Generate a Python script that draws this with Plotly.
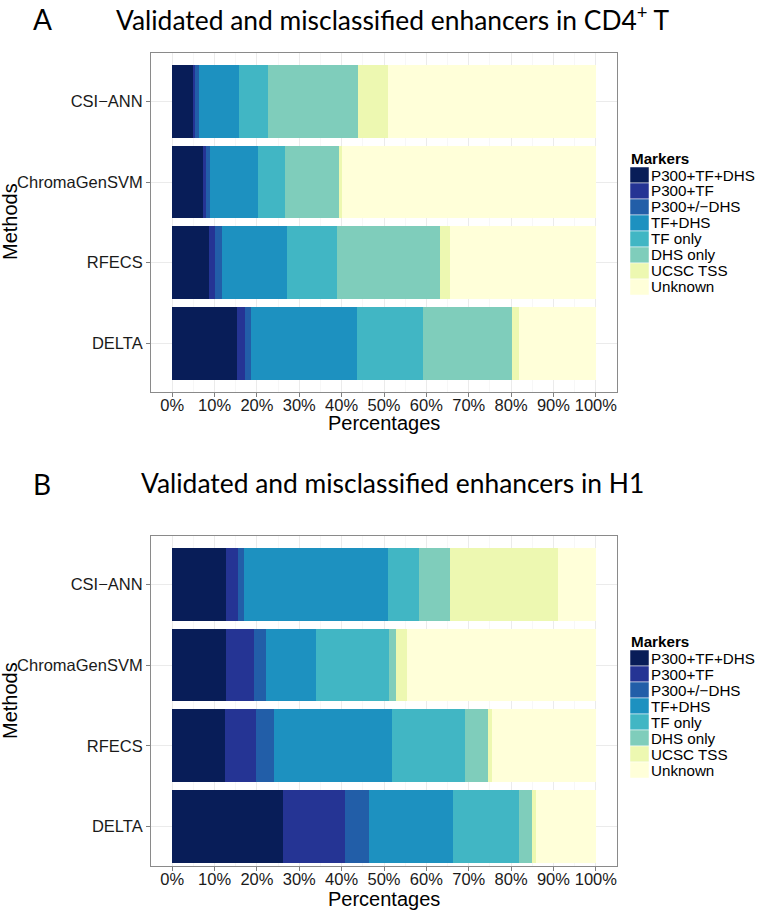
import plotly.graph_objects as go

# ---------------- data ----------------
methods = ["CSI−ANN", "ChromaGenSVM", "RFECS", "DELTA"]
markers = ["P300+TF+DHS", "P300+TF", "P300+/−DHS", "TF+DHS", "TF only", "DHS only", "UCSC TSS", "Unknown"]
colors = ["#081d58", "#253494", "#225ea8", "#1d91c0", "#41b6c4", "#7fcdbb", "#edf8b1", "#ffffd9"]
x_ticks = [0, 10, 20, 30, 40, 50, 60, 70, 80, 90, 100]
x_ticktext = ["0%", "10%", "20%", "30%", "40%", "50%", "60%", "70%", "80%", "90%", "100%"]

# Panel A: CD4+ T (values per method, in order of `methods`)
p300_tf_dhs_A = [5.0, 7.2, 8.7, 15.3]
p300_tf_A = [0.5, 0.7, 1.5, 1.8]
p300_dhs_A = [0.9, 1.0, 1.5, 1.5]
tf_dhs_A = [9.3, 11.3, 15.4, 25.1]
tf_only_A = [6.9, 6.4, 11.8, 15.5]
dhs_only_A = [21.3, 12.7, 24.2, 20.9]
ucsc_tss_A = [7.0, 0.8, 2.4, 1.7]
unknown_A = [49.1, 59.9, 34.5, 18.2]

# Panel B: H1
p300_tf_dhs_B = [12.7, 12.7, 12.5, 26.1]
p300_tf_B = [2.8, 6.6, 7.2, 14.6]
p300_dhs_B = [1.4, 2.9, 4.3, 5.7]
tf_dhs_B = [34.1, 11.7, 28.0, 20.0]
tf_only_B = [7.2, 17.2, 17.2, 15.4]
dhs_only_B = [7.3, 1.7, 5.3, 3.1]
ucsc_tss_B = [25.5, 2.7, 1.0, 0.9]
unknown_B = [9.0, 44.5, 24.5, 14.2]

series_A = [p300_tf_dhs_A, p300_tf_A, p300_dhs_A, tf_dhs_A, tf_only_A, dhs_only_A, ucsc_tss_A, unknown_A]
series_B = [p300_tf_dhs_B, p300_tf_B, p300_dhs_B, tf_dhs_B, tf_only_B, dhs_only_B, ucsc_tss_B, unknown_B]

title_A = "Validated and misclassified enhancers in CD4<sup>+</sup> T"
title_B = "Validated and misclassified enhancers in H1"

# ---------------- figure ----------------
W, H = 762, 917
def px(x):
    return x / W
def py(y):
    return 1 - y / H

fig = go.Figure()
for name, col, vals in zip(markers, colors, series_A):
    fig.add_trace(go.Bar(y=methods, x=vals, name=name, orientation="h", marker=dict(color=col, line=dict(width=0)),
                         width=0.9, xaxis="x", yaxis="y", showlegend=False))
for name, col, vals in zip(markers, colors, series_B):
    fig.add_trace(go.Bar(y=methods, x=vals, name=name, orientation="h", marker=dict(color=col, line=dict(width=0)),
                         width=0.9, xaxis="x2", yaxis="y2", showlegend=False))

SANS = "Liberation Sans"
tickfont = dict(family=SANS, size=16.5, color="#1a1a1a")
xcommon = dict(range=[-5, 105], tickmode="array", tickvals=x_ticks, ticktext=x_ticktext,
               showgrid=True, gridcolor="#ebebeb", gridwidth=1,
               minor=dict(dtick=5, tick0=0, showgrid=True, gridcolor="#f7f7f7", gridwidth=1, ticks=""),
               zeroline=False, showline=True, linecolor="#8a8a8a", linewidth=1, mirror=True,
               ticks="outside", ticklen=4, tickcolor="#7f7f7f", tickfont=tickfont, ticklabelstandoff=-6,
               fixedrange=True)
ycommon = dict(type="category", categoryorder="array", categoryarray=methods[::-1], showgrid=True, gridcolor="#ebebeb",
               zeroline=False, showline=True, linecolor="#8a8a8a", linewidth=1, mirror=True,
               ticks="outside", ticklen=4, tickcolor="#7f7f7f", tickfont=tickfont, fixedrange=True)

fig.update_layout(
    width=W, height=H, margin=dict(l=0, r=0, t=0, b=0), paper_bgcolor="white", plot_bgcolor="white",
    barmode="stack", bargap=0.1, hovermode=False,
    xaxis=dict(domain=[px(151), px(617)], anchor="y", **xcommon),
    yaxis=dict(domain=[py(391.7), py(53)], anchor="x", range=[-0.6, 3.6], **ycommon),
    xaxis2=dict(domain=[px(151), px(617)], anchor="y2", **xcommon),
    yaxis2=dict(domain=[py(866), py(536)], anchor="x2", range=[-0.49, 3.6], **ycommon),
)

ann = []
def note(text, x, y, font, xanchor="center", yanchor="middle", **kw):
    ann.append(dict(text=text, x=px(x), y=py(y), xref="paper", yref="paper", xanchor=xanchor, yanchor=yanchor,
                    showarrow=False, font=font, **kw))

titlefont = dict(family="Lato", size=26.4, color="black")
letterfont = dict(family="Lato", size=28, color="black")
note("A", 42, 19, letterfont)
note(title_A, 392, 19, titlefont)
note("B", 42, 484, letterfont)
note(title_B, 392, 483, titlefont)

axfont = dict(family=SANS, size=20, color="black")
note("Methods", 10, 222, axfont, textangle=-90)
note("Methods", 10, 701, axfont, textangle=-90)
note("Percentages", 384, 423, axfont)
note("Percentages", 384, 899, axfont)

# legends (manual, ggplot-style key blocks)
legfont = dict(family=SANS, size=15.2, color="black")
shapes = []
for top_y in (167, 650):
    note("<b>Markers</b>", 629, top_y - 9, legfont, xanchor="left")
    for i, (name, col) in enumerate(zip(markers, colors)):
        y0 = top_y + i * 16
        shapes.append(dict(type="rect", xref="paper", yref="paper", x0=px(630), x1=px(649), y0=py(y0 + 16), y1=py(y0),
                           fillcolor=col, line=dict(width=0.5, color="white")))
        note(name, 649, y0 + 8, legfont, xanchor="left")

fig.update_layout(annotations=ann, shapes=shapes)
fig.write_html("out.html", config={"displayModeBar": False, "staticPlot": True},
               post_script="document.body.style.margin='0px';document.body.style.overflow='hidden';")
